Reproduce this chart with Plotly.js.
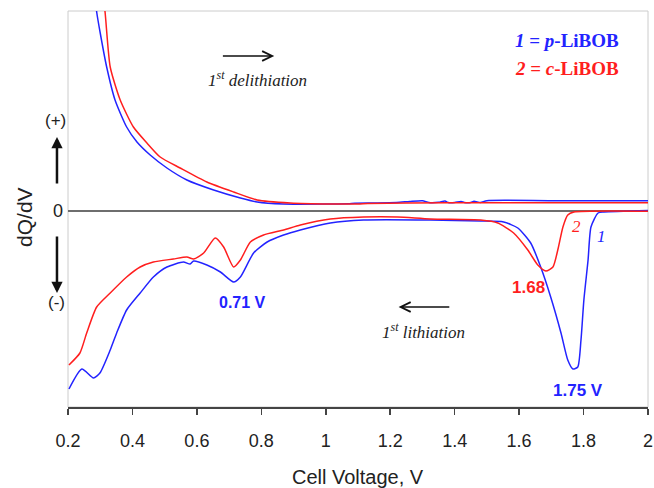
<!DOCTYPE html>
<html>
<head>
<meta charset="utf-8">
<script src="https://cdn.plot.ly/plotly-3.0.1.min.js"></script>
<style>html,body{margin:0;padding:0;background:#fff;}#chart{width:654px;height:488px;}</style>
</head>
<body>
<div id="chart"></div>
<script>
// Tick positions and labels (Cell Voltage, V)
const voltTicks = [0.2, 0.4, 0.6, 0.8, 1.0, 1.2, 1.4, 1.6, 1.8, 2.0];
const tickLabels = ['0.2', '0.4', '0.6', '0.8', '1', '1.2', '1.4', '1.6', '1.8', '2'];

// 1 = p-LiBOB, 1st delithiation (positive dQ/dV, arbitrary units)
const blueDelithV = [0.281, 0.289, 0.300, 0.320, 0.346, 0.382, 0.414, 0.455, 0.507, 0.569, 0.652, 0.735, 0.787, 0.868, 1.014, 1.07, 1.09, 1.16, 1.22, 1.26, 1.30, 1.32, 1.35, 1.37, 1.38, 1.40, 1.42, 1.43, 1.45, 1.46, 1.48, 1.50, 1.70, 2.00];
const blueDelithQ = [22.1, 19.9, 17.8, 14.4, 11.1, 8.4, 6.9, 5.6, 4.3, 3.1, 2.1, 1.3, 0.9, 0.7, 0.7, 0.72, 0.78, 0.8, 0.85, 0.95, 1.03, 0.85, 0.87, 1.0, 0.85, 0.85, 0.95, 0.85, 0.85, 0.97, 0.85, 1.03, 1.03, 1.03];

// 2 = c-LiBOB, 1st delithiation
const redDelithV = [0.306, 0.315, 0.331, 0.362, 0.403, 0.445, 0.486, 0.548, 0.631, 0.714, 0.787, 0.890, 1.014, 1.10, 1.13, 1.25, 1.50, 2.00];
const redDelithQ = [22.1, 19.9, 14.4, 11.1, 8.4, 6.8, 5.4, 4.3, 2.9, 1.9, 1.1, 0.8, 0.7, 0.7, 0.75, 0.8, 0.83, 0.83];

// 1 = p-LiBOB, 1st lithiation (negative dQ/dV)
const blueLithV = [0.203, 0.243, 0.279, 0.299, 0.331, 0.351, 0.382, 0.424, 0.465, 0.507, 0.558, 0.579, 0.590, 0.631, 0.673, 0.714, 0.735, 0.776, 0.818, 0.869, 0.921, 1.014, 1.117, 1.325, 1.481, 1.552, 1.596, 1.636, 1.667, 1.698, 1.730, 1.751, 1.767, 1.782, 1.792, 1.801, 1.814, 1.823, 1.845, 1.863, 2.000];
const blueLithQ = [-17.8, -15.8, -16.7, -16.2, -13.9, -12.2, -9.9, -8.2, -6.6, -5.6, -5.1, -5.3, -5.0, -5.4, -6.1, -7.1, -6.6, -4.2, -3.1, -2.4, -1.9, -1.2, -0.9, -0.9, -1.0, -1.1, -1.7, -3.2, -5.6, -8.6, -12.2, -14.9, -15.8, -15.6, -12.9, -8.9, -4.9, -1.6, -0.2, -0.1, 0.05];

// 2 = c-LiBOB, 1st lithiation
const redLithV = [0.203, 0.237, 0.258, 0.289, 0.331, 0.382, 0.424, 0.465, 0.527, 0.569, 0.590, 0.621, 0.657, 0.683, 0.714, 0.735, 0.766, 0.807, 0.869, 0.921, 1.014, 1.117, 1.223, 1.325, 1.481, 1.534, 1.583, 1.627, 1.658, 1.683, 1.705, 1.720, 1.736, 1.751, 1.770, 2.000];
const redLithQ = [-15.4, -14.2, -12.2, -9.6, -8.2, -6.6, -5.6, -5.1, -4.8, -4.6, -4.8, -4.2, -2.7, -3.6, -5.6, -4.9, -3.1, -2.4, -1.9, -1.4, -0.8, -0.6, -0.6, -0.8, -0.9, -1.2, -2.2, -3.9, -5.4, -6.0, -5.6, -3.9, -1.6, -0.4, -0.1, -0.02];

const BLUE = 'rgb(35,35,255)';
const RED = 'rgb(255,30,30)';
const TXT = '#222222';
const SANS = 'Liberation Sans, Arial, sans-serif';
const SERIF = 'Liberation Serif, Times New Roman, serif';

const line = (c) => ({color: c, width: 1.5, shape: 'spline', smoothing: 0.6});
const traces = [
  {x: blueDelithV, y: blueDelithQ, mode: 'lines', line: line(BLUE), hoverinfo: 'skip'},
  {x: redDelithV, y: redDelithQ, mode: 'lines', line: line(RED), hoverinfo: 'skip'},
  {x: blueLithV, y: blueLithQ, mode: 'lines', line: line(BLUE), hoverinfo: 'skip'},
  {x: redLithV, y: redLithQ, mode: 'lines', line: line(RED), hoverinfo: 'skip'}
];

const txt = (text, x, y, font, extra) => Object.assign({
  text: text, x: x, y: y, xref: 'x', yref: 'y', showarrow: false,
  xanchor: 'center', yanchor: 'middle', font: font
}, extra || {});

const annotations = [
  // legend texts
  txt('<i>1</i> = <i>p</i>-LiBOB', 0.767, 17.1, {family: SERIF, size: 19, color: BLUE, weight: 'bold'}, {xref: 'paper', xanchor: 'left'}),
  txt('<i>2</i> = <i>c</i>-LiBOB', 0.767, 14.3, {family: SERIF, size: 19, color: RED, weight: 'bold'}, {xref: 'paper', xanchor: 'left'}),
  // direction labels
  txt('<i>1<sup>st</sup> delithiation</i>', 0.788, 13.2, {family: SERIF, size: 17, color: TXT}),
  txt('<i>1<sup>st</sup> lithiation</i>', 1.304, -12.0, {family: SERIF, size: 17, color: TXT}),
  // peak labels
  txt('0.71 V', 0.741, -9.1, {family: SANS, size: 16, color: BLUE, weight: 'bold'}),
  txt('1.68', 1.628, -7.6, {family: SANS, size: 17, color: RED, weight: 'bold'}),
  txt('1.75 V', 1.783, -17.9, {family: SANS, size: 17, color: BLUE, weight: 'bold'}),
  txt('<i>2</i>', 1.777, -1.5, {family: SERIF, size: 17, color: RED}),
  txt('<i>1</i>', 1.857, -2.5, {family: SERIF, size: 17, color: BLUE}),
  // horizontal arrows
  {x: 0.840, y: 15.5, ax: 0.676, ay: 15.5, xref: 'x', yref: 'y', axref: 'x', ayref: 'y', text: '', showarrow: true, arrowhead: 5, arrowsize: 1.3, arrowwidth: 1.5, arrowcolor: '#111'},
  {x: 1.226, y: -9.6, ax: 1.388, ay: -9.6, xref: 'x', yref: 'y', axref: 'x', ayref: 'y', text: '', showarrow: true, arrowhead: 5, arrowsize: 1.3, arrowwidth: 1.5, arrowcolor: '#111'},
  // y-axis annotations
  txt('(+)', -0.021, 9.1, {family: SANS, size: 17, color: TXT}, {xref: 'paper'}),
  txt('0', -0.017, 0, {family: SANS, size: 18, color: TXT}, {xref: 'paper'}),
  txt('(-)', -0.019, -9.1, {family: SANS, size: 17, color: TXT}, {xref: 'paper'}),
  {x: -0.019, y: 7.4, ax: -0.019, ay: 2.6, xref: 'paper', yref: 'y', axref: 'paper', ayref: 'y', text: '', showarrow: true, arrowhead: 2, arrowsize: 0.9, arrowwidth: 2.5, arrowcolor: '#111'},
  {x: -0.019, y: -8.2, ax: -0.019, ay: -2.4, xref: 'paper', yref: 'y', axref: 'paper', ayref: 'y', text: '', showarrow: true, arrowhead: 2, arrowsize: 0.9, arrowwidth: 2.5, arrowcolor: '#111'},
  txt('dQ/dV', -0.076, -0.6, {family: SANS, size: 21, color: TXT}, {xref: 'paper', textangle: -90}),
  // x-axis title
  txt('Cell Voltage, V', 0.5, -0.176, {family: SANS, size: 20, color: TXT}, {xref: 'paper', yref: 'paper'})
];

const layout = {
  width: 654, height: 488,
  margin: {l: 68, r: 6, t: 11, b: 81},
  paper_bgcolor: '#fff', plot_bgcolor: '#fff',
  showlegend: false,
  xaxis: {
    range: [0.2, 2.0], tickvals: voltTicks, ticktext: tickLabels,
    ticks: 'outside', ticklen: 6, tickwidth: 1.5, tickcolor: '#444',
    showline: true, linecolor: '#444', linewidth: 1.5,
    showgrid: false, zeroline: false,
    tickfont: {family: SANS, size: 18, color: TXT}, ticklabelstandoff: 11
  },
  yaxis: {range: [-19.6, 20.0], visible: false, showgrid: false, zeroline: false},
  shapes: [
    {type: 'rect', xref: 'paper', yref: 'paper', x0: 0, x1: 1, y0: 0, y1: 1, line: {color: '#cccccc', width: 1}, layer: 'below'},
    {type: 'line', xref: 'paper', yref: 'y', x0: 0, x1: 1, y0: 0, y1: 0, line: {color: '#6e6e6e', width: 2}, layer: 'below'}
  ],
  annotations: annotations
};

Plotly.newPlot('chart', traces, layout, {staticPlot: true, displayModeBar: false});
</script>
</body>
</html>
